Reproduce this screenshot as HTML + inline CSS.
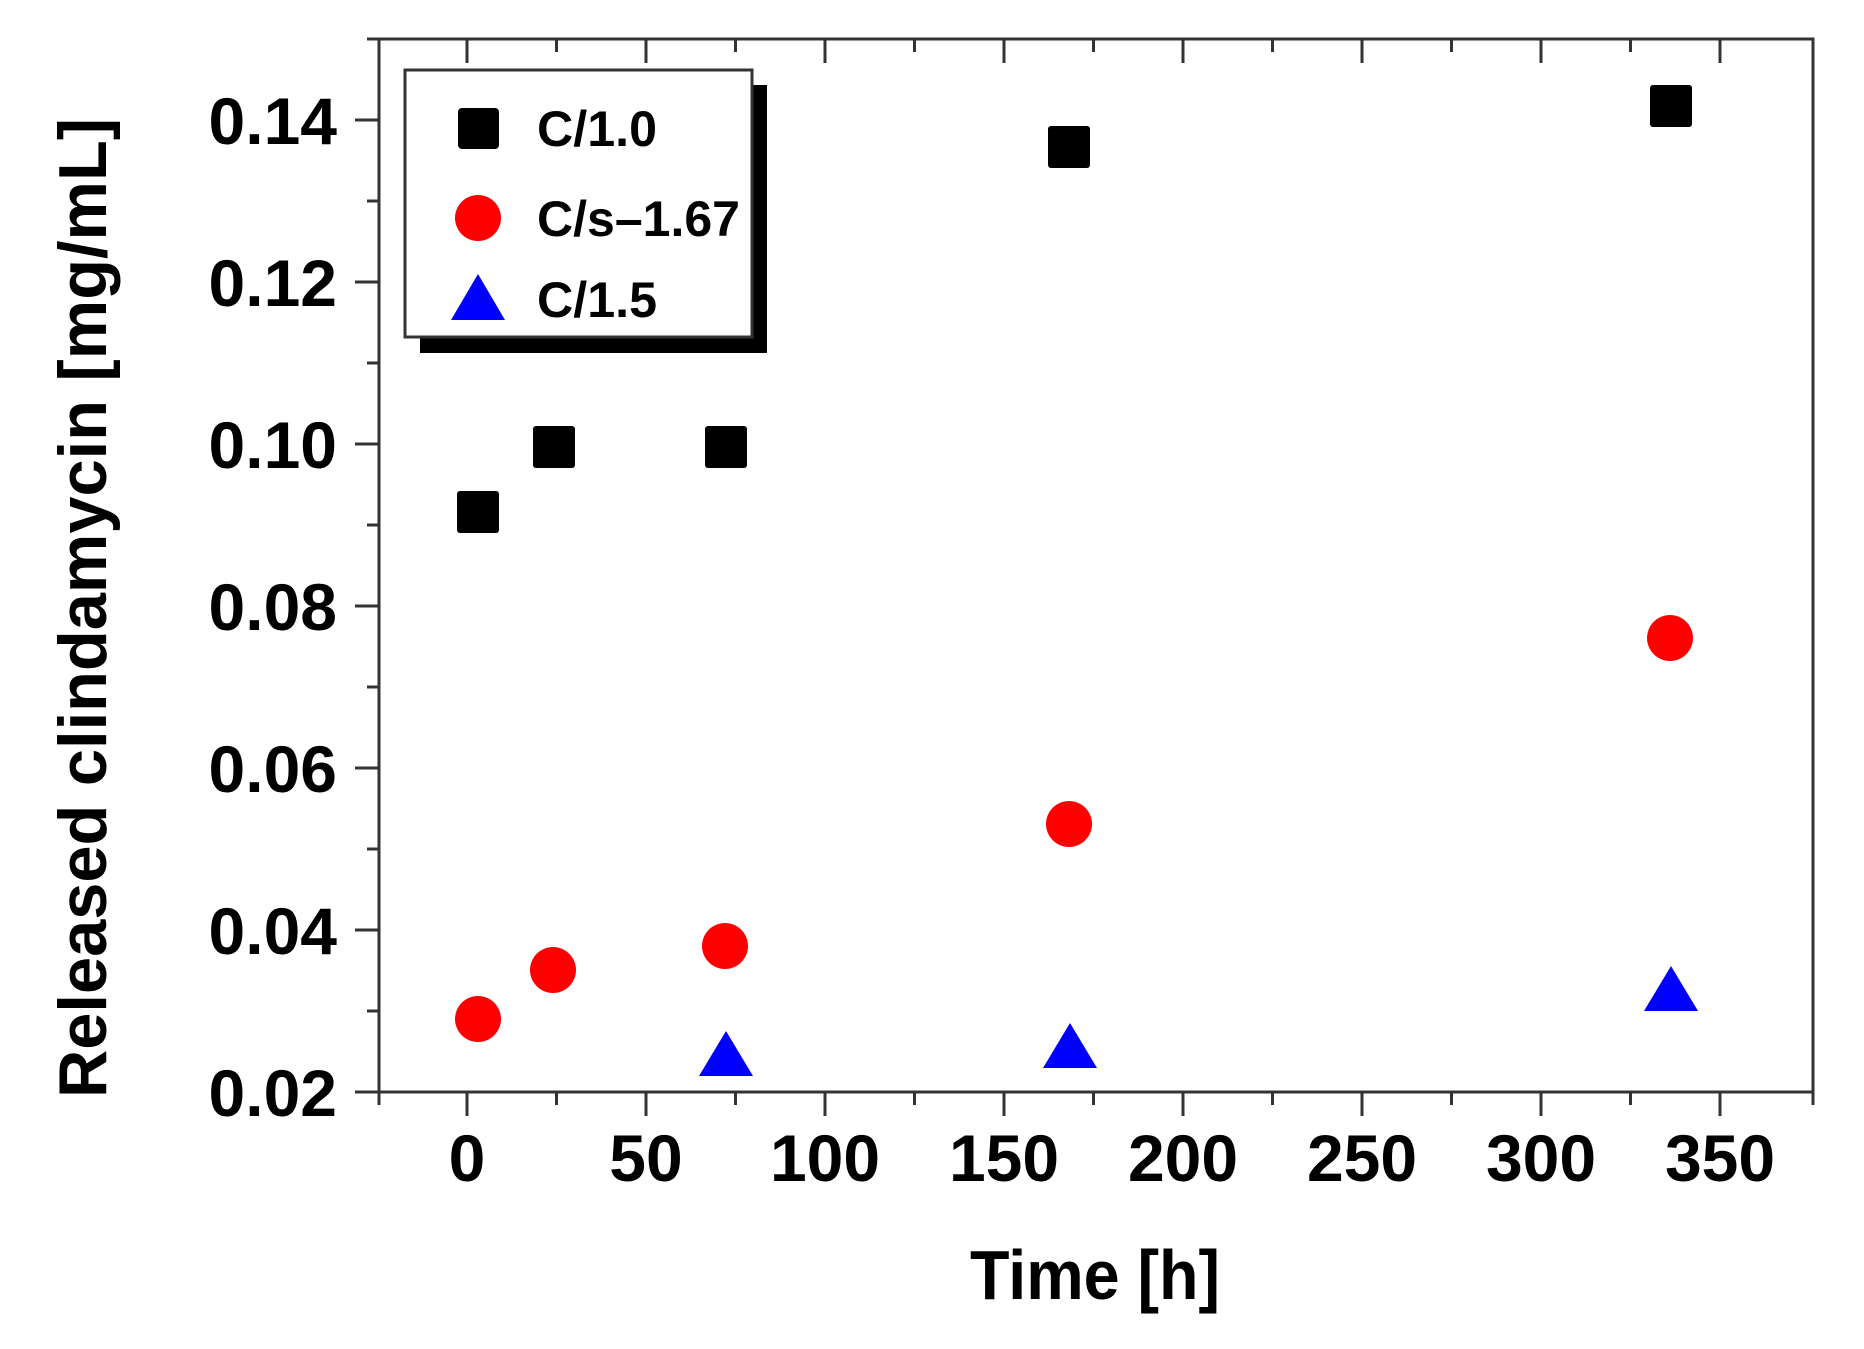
<!DOCTYPE html>
<html><head><meta charset="utf-8"><style>html,body{margin:0;padding:0;background:#fff}svg{display:block}</style></head>
<body>
<svg width="1864" height="1349" viewBox="0 0 1864 1349" xmlns="http://www.w3.org/2000/svg" font-family="Liberation Sans, Arial, sans-serif" font-weight="bold">
<rect width="1864" height="1349" fill="#fff"/>
<g stroke="#333" stroke-width="3" fill="none">
<rect x="379" y="39" width="1434" height="1053"/>
<path d="M467,1092v24M556.5,1092v13M646,1092v24M735.5,1092v13M825,1092v24M914.5,1092v13M1004,1092v24M1093.5,1092v13M1183,1092v24M1272.5,1092v13M1362,1092v24M1451.5,1092v13M1541,1092v24M1630.5,1092v13M1720,1092v24M379,1092v13M1813,1092v13"/>
<path d="M467,39v24M556.5,39v13M646,39v24M735.5,39v13M825,39v24M914.5,39v13M1004,39v24M1093.5,39v13M1183,39v24M1272.5,39v13M1362,39v24M1451.5,39v13M1541,39v24M1630.5,39v13M1720,39v24"/>
<path d="M379,1092h-24M379,1011h-12M379,930h-24M379,849h-12M379,768h-24M379,687h-12M379,606h-24M379,525h-12M379,444h-24M379,363h-12M379,282h-24M379,201h-12M379,120h-24M379,39h-12"/>
</g>
<g font-size="66" fill="#000" text-anchor="middle">
<text x="467" y="1181">0</text><text x="646" y="1181">50</text><text x="825" y="1181">100</text><text x="1004" y="1181">150</text><text x="1183" y="1181">200</text><text x="1362" y="1181">250</text><text x="1541" y="1181">300</text><text x="1720" y="1181">350</text>
</g>
<g font-size="66" fill="#000" text-anchor="end">
<text x="337" y="144">0.14</text><text x="337" y="306">0.12</text><text x="337" y="468">0.10</text><text x="337" y="630">0.08</text><text x="337" y="792">0.06</text><text x="337" y="954">0.04</text><text x="337" y="1116">0.02</text>
</g>
<text x="1095" y="1299" font-size="70" text-anchor="middle" textLength="250" lengthAdjust="spacingAndGlyphs">Time [h]</text>
<text transform="translate(106,608) rotate(-90)" font-size="68" text-anchor="middle" textLength="980" lengthAdjust="spacingAndGlyphs">Released clindamycin [mg/mL]</text>
<rect x="420" y="85" width="347" height="268" fill="#000"/>
<rect x="405" y="70" width="347" height="267" fill="#fff" stroke="#333" stroke-width="3"/>
<rect x="458" y="108" width="41" height="41" rx="4" fill="#000"/>
<circle cx="478" cy="218" r="23" fill="#f00"/>
<polygon points="478,274 505,320 451,320" fill="#00f"/>
<g font-size="50" fill="#000">
<text x="537" y="146" textLength="120" lengthAdjust="spacingAndGlyphs">C/1.0</text><text x="537" y="236" textLength="203" lengthAdjust="spacingAndGlyphs">C/s–1.67</text><text x="537" y="317" textLength="120" lengthAdjust="spacingAndGlyphs">C/1.5</text>
</g>
<g fill="#000">
<rect x="457" y="491" width="42" height="42" rx="3"/>
<rect x="533" y="426" width="42" height="42" rx="3"/>
<rect x="705" y="426" width="42" height="42" rx="3"/>
<rect x="1048" y="126" width="42" height="42" rx="3"/>
<rect x="1650" y="85" width="42" height="42" rx="3"/>
</g>
<g fill="#f00">
<circle cx="478" cy="1019" r="23"/>
<circle cx="553" cy="970" r="23"/>
<circle cx="725" cy="946" r="23"/>
<circle cx="1069" cy="824" r="23"/>
<circle cx="1670" cy="638" r="23"/>
</g>
<g fill="#00f">
<polygon points="726,1031 753,1076 699,1076"/>
<polygon points="1070,1023 1097,1068 1043,1068"/>
<polygon points="1671,966 1698,1011 1644,1011"/>
</g>
</svg>
</body></html>
